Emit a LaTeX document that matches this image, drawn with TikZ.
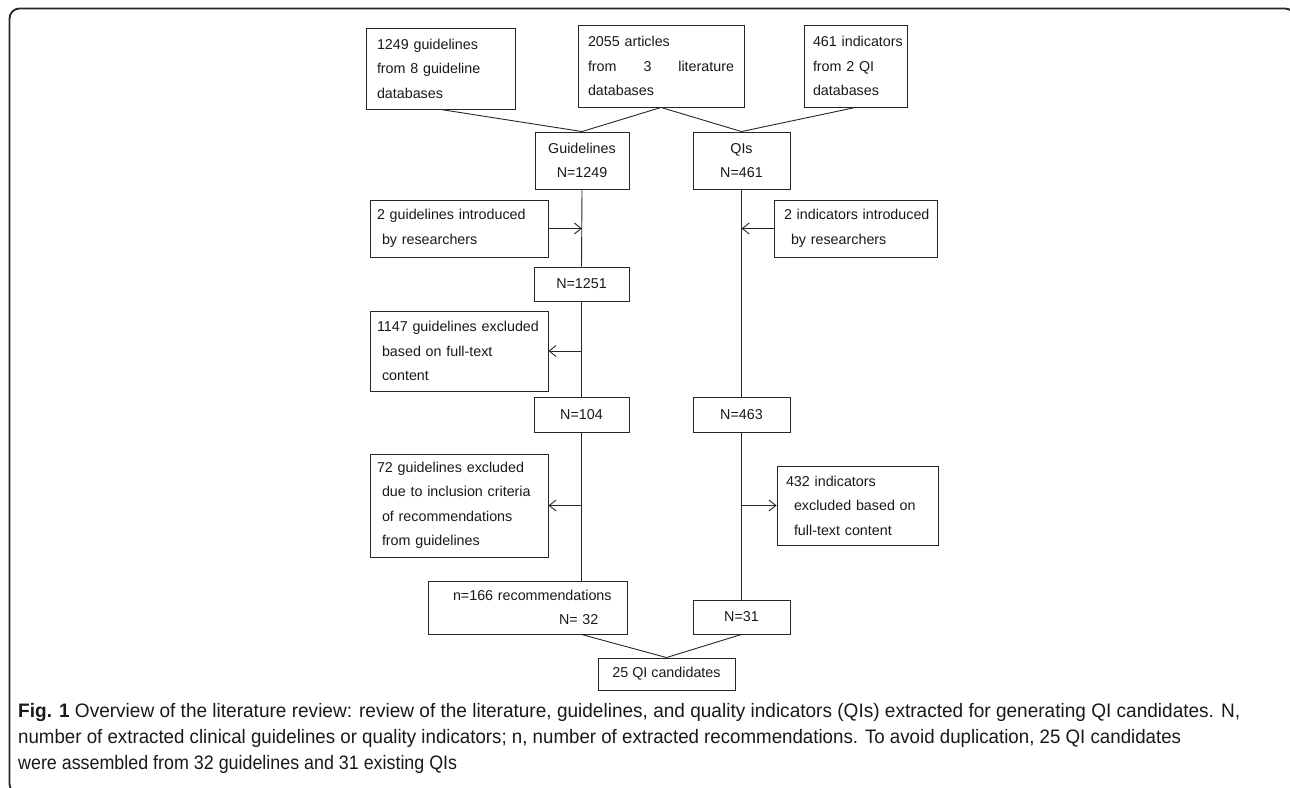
\documentclass[tikz,border=0pt]{standalone}
\usepackage{fontspec}
\usepackage{graphicx}
\setmainfont{Liberation Sans}
\newfontfamily\capfont{Liberation Sans}
\usetikzlibrary{arrows.meta}
\begin{document}
\begin{tikzpicture}[x=1pt,y=-1pt,
  box/.style={draw=black!85, line width=0.9pt, inner sep=0pt, font=\fontsize{14.3pt}{24.5pt}\selectfont, text=black!90},
  ln/.style={draw=black!85, line width=0.9pt},
  arr/.style={ln, -{Straight Barb[length=7pt,width=11pt]}},
  capline/.style={anchor=base west, inner sep=0pt, text=black!90, font=\capfont\fontsize{19.5pt}{22pt}\selectfont}]
\useasboundingbox (0,0) rectangle (1290,787);
\clip (0,0) rectangle (1290,787);
\draw[draw=black!85, line width=1.8pt, rounded corners=10pt] (9.5,8.5) rectangle (1295,794);
% top row
\node[box, align=left, text width=127pt, minimum width=149pt, minimum height=81pt] (b1) at (440.5,68.5)
  {1249 guidelines\\from 8 guideline\\databases};
\node[box, align=left, text width=146pt, minimum width=166pt, minimum height=82pt] (b2) at (661,66)
  {2055 articles\\from\hfill 3\hfill literature\\databases};
\node[box, align=left, text width=85pt, minimum width=103pt, minimum height=82pt] (b3) at (855.5,66)
  {\mbox{461 indicators}\\from 2 QI\\databases};
% second row
\node[box, align=center, minimum width=94pt, minimum height=57pt] (guide) at (582,160.5) {Guidelines\\N=1249};
\node[box, align=center, minimum width=97pt, minimum height=57pt] (qis) at (741.5,160.5) {QIs\\N=461};
% left column
\node[box, align=left, text width=164pt, minimum width=178pt, minimum height=57pt] (intro1) at (459,228.5)
  {\mbox{2 guidelines introduced}\\\hspace*{5pt}by researchers};
\node[box, align=center, minimum width=95pt, minimum height=34pt] (n1251) at (581.5,284) {N=1251};
\node[box, align=left, text width=164pt, minimum width=178pt, minimum height=80pt] (excl1) at (459,351)
  {\mbox{1147 guidelines excluded}\\\hspace*{5pt}based on full-text\\\hspace*{5pt}content};
\node[box, align=center, minimum width=95pt, minimum height=35pt] (n104) at (581.5,414.5) {N=104};
\node[box, align=left, text width=164pt, minimum width=178pt, minimum height=103pt] (excl2) at (459,505.5)
  {\mbox{72 guidelines excluded}\\\hspace*{5pt}\mbox{due to inclusion criteria}\\\hspace*{5pt}of recommendations\\\hspace*{5pt}from guidelines};
\node[box, align=left, text width=149pt, minimum width=199pt, minimum height=53pt] (n166) at (527.5,607.5)
  {\mbox{n=166 recommendations}\\\hspace*{106pt}N= 32};
% right column
\node[box, align=left, text width=143pt, minimum width=163pt, minimum height=57pt] (intro2) at (855.5,228.5)
  {\mbox{2 indicators introduced}\\\hspace*{7pt}by researchers};
\node[box, align=center, minimum width=97pt, minimum height=35pt] (n463) at (741.5,414.5) {N=463};
\node[box, align=left, text width=143pt, minimum width=161pt, minimum height=79pt] (excl3) at (857.5,505.5)
  {432 indicators\\\hspace*{8pt}excluded based on\\\hspace*{8pt}full-text content};
\node[box, align=center, minimum width=97pt, minimum height=34pt] (n31) at (741.5,617) {N=31};
% final
\node[box, align=center, minimum width=137pt, minimum height=32pt] (final) at (666.5,674) {25 QI candidates};
% connectors
\draw[ln] (b1.south) -- (guide.north);
\draw[ln] (b2.south) -- (guide.north);
\draw[ln] (b2.south) -- (qis.north);
\draw[ln] (b3.south) -- (qis.north);
\draw[ln] (guide.south) -- (n1251.north);
\draw[ln] (n1251.south) -- (n104.north);
\draw[ln] (n104.south) -- (n104.south |- n166.north);
\draw[ln] (qis.south) -- (n463.north);
\draw[ln] (n463.south) -- (n31.north);
\draw[ln] (n104.south |- n166.south) -- (final.north);
\draw[ln] (n31.south) -- (final.north);
\draw[arr] (intro1.east) -- (intro1.east -| guide.south);
\draw[arr] (excl1.east -| n1251.south) -- (excl1.east);
\draw[arr] (excl2.east -| n104.south) -- (excl2.east);
\draw[arr] (intro2.west) -- (intro2.west -| qis.south);
\draw[arr] (excl3.west -| n463.south) -- (excl3.west);
% caption
\node[capline] (cap1) at (18,717) {\resizebox{1222pt}{\height}{\textbf{Fig. 1} Overview of the literature review: review of the literature, guidelines, and quality indicators (QIs) extracted for generating QI candidates. N,}};
\node[capline] (cap2) at (18,743) {\resizebox{1163pt}{\height}{number of extracted clinical guidelines or quality indicators; n, number of extracted recommendations. To avoid duplication, 25 QI candidates}};
\node[capline] (cap3) at (18,769) {\resizebox{439pt}{\height}{were assembled from 32 guidelines and 31 existing QIs}};
\end{tikzpicture}
\end{document}
